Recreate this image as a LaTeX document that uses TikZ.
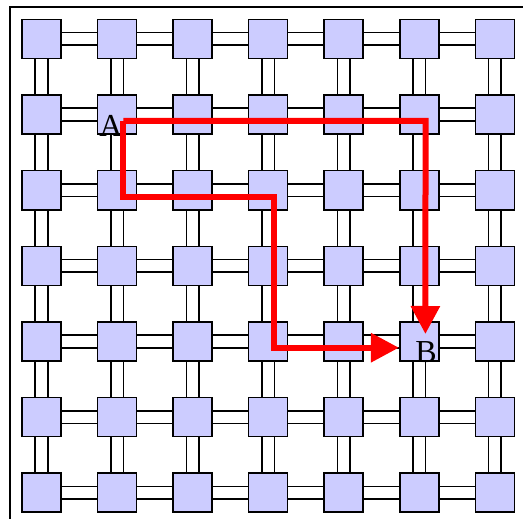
\documentclass[tikz,border=0pt]{standalone}
\usepackage{fontspec}
\setmainfont{Liberation Serif}
\usetikzlibrary{arrows.meta}
\definecolor{boxblue}{HTML}{CCCCFF}
\begin{document}
\begin{tikzpicture}[x=1pt,y=-1pt,
  sq/.style={draw=black,line width=1.6pt,fill=boxblue,minimum size=39pt,inner sep=0pt},
  lnk/.style={draw=black,line width=1.6pt},
  route/.style={draw=red,line width=6pt,line join=miter},
  tip/.style={-{Triangle[length=28pt,width=28pt]}},
  lbl/.style={font=\fontsize{32}{32}\selectfont,inner sep=0pt}]
\useasboundingbox (0,0) rectangle (523,519);
\draw[line width=1.6pt] (10,519) -- (10,7) -- (523,7);
% grid positions
\foreach \r in {0,...,6}{
  \foreach \c in {0,...,6}{
    \coordinate (p-\r-\c) at ({41.5+75.55*\c},{39+75.6*\r});
  }
}
% links (drawn first, under squares)
\foreach \r in {0,...,6}{
  \foreach \c [evaluate=\c as \d using int(\c+1)] in {0,...,5}{
    \draw[lnk] ([yshift=6.3pt]p-\r-\c) -- ([yshift=6.3pt]p-\r-\d);
    \draw[lnk] ([yshift=-6.3pt]p-\r-\c) -- ([yshift=-6.3pt]p-\r-\d);
  }
}
\foreach \c in {0,...,6}{
  \foreach \r [evaluate=\r as \s using int(\r+1)] in {0,...,5}{
    \draw[lnk] ([xshift=6.3pt]p-\r-\c) -- ([xshift=6.3pt]p-\s-\c);
    \draw[lnk] ([xshift=-6.3pt]p-\r-\c) -- ([xshift=-6.3pt]p-\s-\c);
  }
}
\foreach \r in {0,...,6}{
  \foreach \c in {0,...,6}{
    \node[sq] (n-\r-\c) at (p-\r-\c) {};
  }
}
% labels
\node[lbl] (A) at (111,126) {A};
\node[lbl] (B) at (426,352) {B};
% red routes
\coordinate (s) at ([xshift=6.3pt,yshift=-6.3pt]n-1-1.center);
\coordinate (c1) at ([xshift=6.3pt,yshift=-6.3pt]n-1-5.center);
\coordinate (t1) at (425.4,334);
\coordinate (c2) at ([xshift=6.3pt,yshift=-6.3pt]n-2-1.center);
\coordinate (c3) at ([xshift=6.3pt,yshift=-6.3pt]n-2-3.center);
\coordinate (c4) at ([xshift=6.3pt,yshift=-6.3pt]n-4-3.center);
\coordinate (t2) at ([yshift=-6.3pt]n-4-5.west);
\draw[route,tip] (s) -- (c1) -- (t1);
\draw[route,tip] (s) -- (c2) -- (c3) -- (c4) -- (t2);
\end{tikzpicture}
\end{document}
